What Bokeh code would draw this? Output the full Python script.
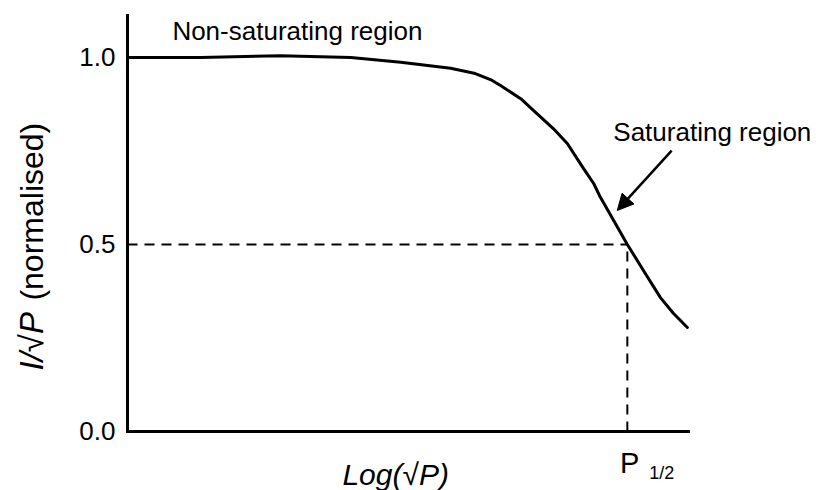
from bokeh.plotting import figure
from bokeh.models import Range1d, Arrow, NormalHead, ColumnDataSource
from bokeh.core.properties import value
from bokeh.embed import file_html
from bokeh.resources import INLINE

# Normalised response I/sqrt(P) against log(sqrt(P)) (arbitrary units)
log_sqrt_p = [0.00, 1.30, 2.73, 3.98, 4.87, 5.76, 6.20, 6.47, 6.65, 7.01,
              7.24, 7.59, 7.84, 8.13, 8.31, 8.43, 8.91, 9.20, 9.50, 9.73, 9.98]
response = [1.000, 1.000, 1.005, 1.000, 0.987, 0.971, 0.957, 0.941, 0.925, 0.890,
            0.858, 0.810, 0.770, 0.703, 0.663, 0.626, 0.500, 0.430, 0.358, 0.316, 0.278]

y_ticks = [0.0, 0.5, 1.0]
y_tick_labels = ["0.0", "0.5", "1.0"]
half_level = 0.5
p_half = 8.91

# extent of the drawn axes
x_axis_end = 10.0
y_axis_end = 1.112

FONT = "Liberation Sans"

# the plotting frame covers the whole canvas so that nothing gets clipped;
# the axes are drawn as plain lines inside it
p = figure(width=816, height=490,
           x_range=Range1d(-2.264, 12.282), y_range=Range1d(-0.1578, 1.1524),
           output_backend="svg", toolbar_location=None,
           min_border=0)
p.axis.visible = False
p.grid.visible = False
p.outline_line_color = None
p.background_fill_color = "white"
p.border_fill_color = "white"

# axis lines
p.segment(x0=[0, 0], y0=[0, 0], x1=[0, x_axis_end], y1=[y_axis_end, 0],
          line_color="black", line_width=3, line_cap="square")

# y tick labels
p.text(x=[-0.214] * len(y_ticks), y=y_ticks, text=y_tick_labels,
       text_font=value(FONT), text_font_size="26px", text_color="black",
       text_align="right", text_baseline="middle")

# dashed guides to the half-response point
p.segment(x0=[0, p_half], y0=[half_level, 0], x1=[p_half, p_half], y1=[half_level, half_level],
          line_color="black", line_width=2, line_dash="10 7")

# response curve
src = ColumnDataSource(data=dict(x=log_sqrt_p, y=response))
p.line("x", "y", source=src, line_color="black", line_width=3,
       line_join="round", line_cap="round")

# arrow pointing at the saturating part of the curve
p.add_layout(Arrow(end=NormalHead(size=16, fill_color="black", line_color="black"),
                   x_start=9.70, y_start=0.751, x_end=8.73, y_end=0.591,
                   line_width=2.5, line_color="black"))

def add_text(text, x, y, size, style="normal", align="left", baseline="alphabetic", angle=0.0):
    p.text(x=[x], y=[y], text=[text], text_font=value(FONT), text_font_size=size,
           text_font_style=style, text_align=align, text_baseline=baseline,
           angle=angle, text_color="black")

add_text("Non-saturating region", 0.80, 1.072, "26px")
add_text("Saturating region", 8.66, 0.800, "26px")
add_text("Log(\u221aP)", 4.78, -0.115, "30px", style="italic", align="center")
add_text("P", 8.78, -0.083, "29px")
add_text("1/2", 9.30, -0.110, "18px")
add_text("I/\u221aP", -1.71, 0.163, "33px", style="italic", baseline="middle", angle=1.5708)
add_text("(normalised)", -1.71, 0.350, "32px", baseline="middle", angle=1.5708)

open("out.html", "w").write(file_html(p, INLINE))
